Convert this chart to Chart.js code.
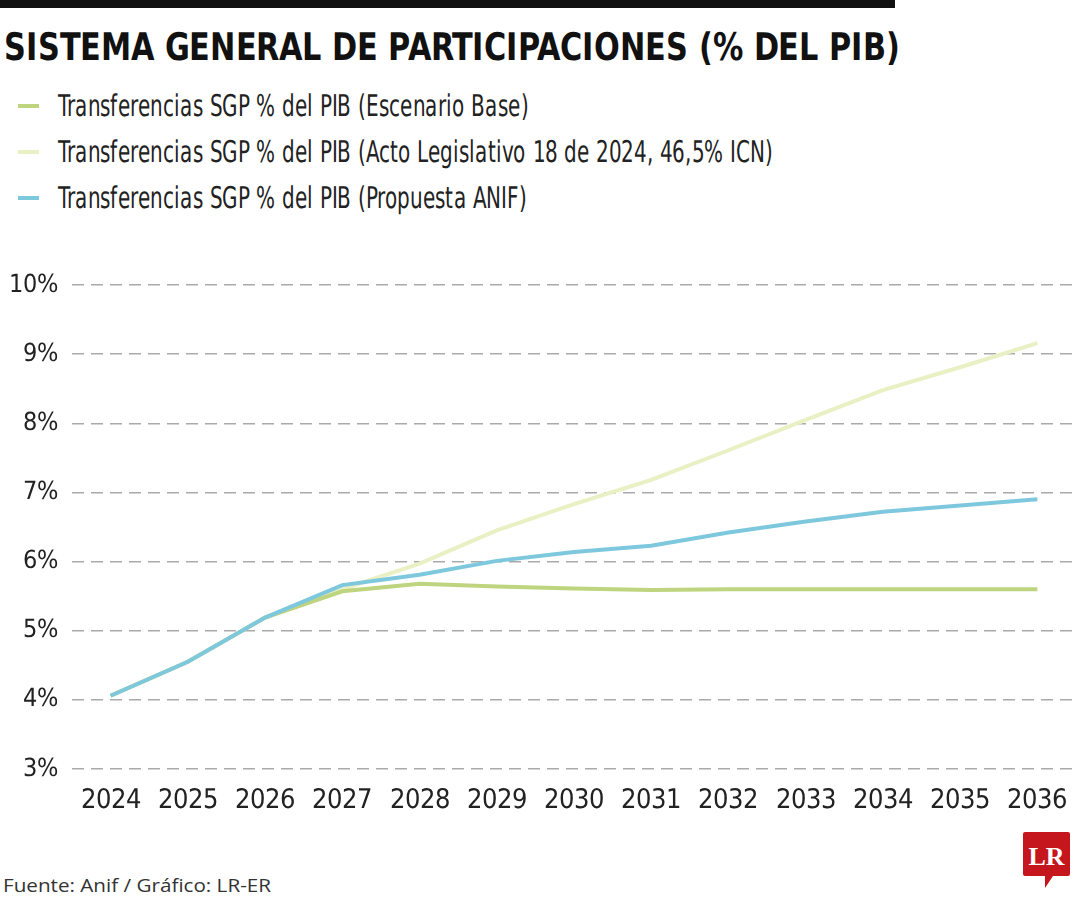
<!DOCTYPE html>
<html>
<head>
<meta charset="utf-8">
<script src="https://cdn.jsdelivr.net/npm/chart.js@4"></script>
<style>
  @font-face { font-family: "Narrow"; font-weight: normal;
    src: local("Liberation Sans Narrow"), local("LiberationSansNarrow-Regular"), local("DejaVu Sans Condensed"), local("DejaVuSansCondensed"); }
  @font-face { font-family: "Narrow"; font-weight: bold;
    src: local("Liberation Sans Narrow Bold"), local("LiberationSansNarrow-Bold"), local("DejaVu Sans Condensed Bold"), local("DejaVuSansCondensed-Bold"); }
  body { margin: 0; background: #fff; width: 1080px; height: 900px; overflow: hidden; position: relative; font-family: "Narrow", sans-serif; }
  #bar { position: absolute; left: 0; top: 0; width: 895px; height: 8px; background: #111; }
  #title { position: absolute; left: 4px; top: 25px; font-size: 38px; font-weight: bold; color: #111; white-space: nowrap; transform-origin: left top; }
  .leg { position: absolute; left: 18px; font-size: 30px; color: #222; white-space: nowrap; transform-origin: left center; }
  .leg span { display: inline-block; width: 21px; height: 4px; vertical-align: middle; margin-right: 19px; position: relative; top: -2px; }
  .leg b { font-weight: normal; display: inline-block; transform-origin: left center; }
  #chartBox { position: absolute; left: 0; top: 256px; width: 1080px; height: 564px; }
  #source { position: absolute; left: 3px; top: 872px; font-family: "Open Sans", "Noto Sans", sans-serif; font-size: 19px; color: #333; white-space: nowrap; transform-origin: left top; }
  #logo { position: absolute; left: 1023px; top: 832px; }
</style>
</head>
<body>
<div id="bar"></div>
<div id="title">SISTEMA GENERAL DE PARTICIPACIONES (% DEL PIB)</div>
<div id="legend"></div>
<div id="chartBox"><canvas id="graphWidget"></canvas></div>
<div id="source">Fuente: Anif / Gráfico: LR-ER</div>
<svg id="logo" width="48" height="58" viewBox="0 0 48 58">
  <path d="M2 0 H45 A2 2 0 0 1 47 2 V42 A2 2 0 0 1 45 44 H30 L22 56 L22 44 H2 A2 2 0 0 1 0 42 V2 A2 2 0 0 1 2 0 Z" fill="#c4161c"/>
  <text x="23.5" y="33" text-anchor="middle" font-family="Liberation Serif, DejaVu Serif, serif" font-weight="bold" font-size="26" fill="#fff">LR</text>
</svg>
<script>
var years = ["2024", "2025", "2026", "2027", "2028", "2029", "2030", "2031", "2032", "2033", "2034", "2035", "2036"];
var yTicks = [3, 4, 5, 6, 7, 8, 9, 10];

var base_values = [4.06, 4.55, 5.19, 5.57, 5.68, 5.64, 5.61, 5.59, 5.60, 5.60, 5.60, 5.60, 5.60];
var acto_values = [4.06, 4.55, 5.19, 5.60, 5.97, 6.45, 6.83, 7.18, 7.61, 8.05, 8.48, 8.81, 9.16];
var anif_values = [4.06, 4.55, 5.19, 5.66, 5.81, 6.01, 6.14, 6.23, 6.42, 6.58, 6.72, 6.81, 6.90];

var series_names = [
    "Transferencias SGP % del PIB (Escenario Base)",
    "Transferencias SGP % del PIB (Acto Legislativo 18 de 2024, 46,5% ICN)",
    "Transferencias SGP % del PIB (Propuesta ANIF)"
];
var series_colors = ["#bfd47e", "#e9f0c3", "#7ec8de"];

var FONT = '"Narrow", sans-serif';

// squeeze an element horizontally to a target width
function fitWidth(el, target) {
    var w = el.getBoundingClientRect().width;
    if (w > 0) el.style.transform = 'scaleX(' + (target / w) + ')';
}

function buildText() {
    var legend = document.getElementById('legend');
    var texts = [];
    for (var i = 0; i < series_names.length; i++) {
        var d = document.createElement('div');
        d.className = 'leg';
        d.style.top = (88 + i * 46) + 'px';
        d.innerHTML = '<span style="background:' + series_colors[i] + '"></span><b>' + series_names[i] + '</b>';
        legend.appendChild(d);
        texts.push(d.querySelector('b'));
    }
    // the longest legend line runs from x=58 to x=773 in the reference
    var k = 715 / texts[1].getBoundingClientRect().width;
    for (var t of texts) t.style.transform = 'scaleX(' + k + ')';
    fitWidth(document.getElementById('title'), 896);
    fitWidth(document.getElementById('source'), 268);
}

function graphic() {
    var ctx = document.getElementById('graphWidget').getContext('2d');
    var chart = new Chart(ctx, {
        type: 'line',
        data: {
            labels: years,
            datasets: [{
                label: series_names[0],
                borderColor: series_colors[0],
                data: base_values,
                order: 1
            }, {
                label: series_names[1],
                borderColor: series_colors[1],
                data: acto_values,
                order: 2
            }, {
                label: series_names[2],
                borderColor: series_colors[2],
                data: anif_values,
                order: 0
            }]
        },
        options: {
            responsive: true,
            maintainAspectRatio: false,
            animation: false,
            layout: { padding: { top: 21, right: 4, left: 0, bottom: 0 } },
            elements: {
                line: { borderWidth: 4, tension: 0, borderCapStyle: 'butt' },
                point: { radius: 0 }
            },
            plugins: { legend: { display: false }, tooltip: { enabled: false } },
            scales: {
                x: {
                    offset: true,
                    grid: { display: false },
                    border: { display: false },
                    ticks: {
                        color: '#222',
                        padding: 8,
                        maxRotation: 0,
                        autoSkip: false,
                        font: { family: FONT, size: 27 }
                    },
                    afterFit: function (s) { s.height = 51; }
                },
                y: {
                    min: 3,
                    max: 10,
                    grid: { color: '#aaaaaa', lineWidth: 1.5, drawTicks: false },
                    border: { display: false, dash: [12, 7] },
                    ticks: {
                        color: '#222',
                        padding: 14,
                        stepSize: 1,
                        font: { family: FONT, size: 25 },
                        callback: function (v) { return yTicks.indexOf(v) >= 0 ? v + '%' : ''; }
                    },
                    afterFit: function (s) { s.width = 72; }
                }
            }
        }
    });
}

Promise.all([
    document.fonts.load('27px "Narrow"'),
    document.fonts.load('bold 38px "Narrow"')
]).catch(function () {}).then(function () {
    buildText();
    graphic();
});
</script>
</body>
</html>
